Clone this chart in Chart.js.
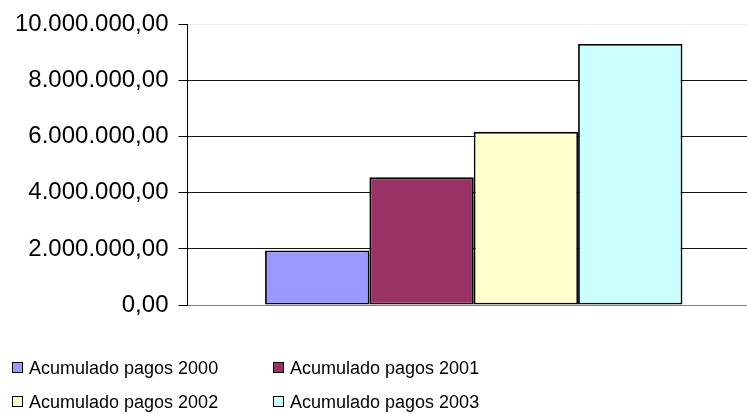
<!DOCTYPE html>
<html>
<head>
<meta charset="utf-8">
<script src="https://cdn.jsdelivr.net/npm/chart.js@4/dist/chart.umd.min.js"></script>
<style>
  html, body { margin:0; padding:0; background:#fff; overflow:hidden; width:747px; height:414px; }
  #wrap { position:absolute; left:0; top:0; width:760px; height:414px; }
  #legend { position:absolute; left:0; top:0; width:747px; height:414px; pointer-events:none;
            font-family:"Liberation Sans", Arial, sans-serif; font-size:18px; color:#000; }
  .item { position:absolute; height:20px; line-height:20px; white-space:nowrap; }
  .box { position:absolute; left:0; top:4px; width:9px; height:9px; border:1px solid #000; }
  .lbl { position:absolute; left:17px; top:0; }
</style>
</head>
<body>
<div id="wrap"><canvas id="c"></canvas></div>
<div id="legend"></div>
<script>
const categories = [""];
const seriesNames = ["Acumulado pagos 2000", "Acumulado pagos 2001", "Acumulado pagos 2002", "Acumulado pagos 2003"];
const seriesValues = [1940000, 4550000, 6170000, 9300000];
const seriesColors = ["#9999FF", "#993366", "#FFFFCC", "#CCFFFF"];
const yTickValues = [0, 2000000, 4000000, 6000000, 8000000, 10000000];
const yTickLabels = ["0,00", "2.000.000,00", "4.000.000,00", "6.000.000,00", "8.000.000,00", "10.000.000,00"];

Chart.defaults.font.family = '"Liberation Sans", Arial, sans-serif';
Chart.defaults.color = '#000';

const datasets = seriesNames.map((name, i) => ({
  label: name,
  data: [seriesValues[i]],
  backgroundColor: seriesColors[i],
  borderColor: '#000',
  borderWidth: 1.8,
  borderSkipped: false,
  barPercentage: 1.0,
  categoryPercentage: 0.729
}));

new Chart(document.getElementById('c'), {
  type: 'bar',
  data: { labels: categories, datasets },
  options: {
    responsive: true,
    maintainAspectRatio: false,
    animation: false,
    layout: { padding: { top: 22, bottom: 109, left: 5, right: 0 } },
    plugins: { legend: { display: false }, tooltip: { enabled: false } },
    scales: {
      x: { display: false },
      y: {
        min: 0, max: 10000000,
        afterBuildTicks: (axis) => { axis.ticks = yTickValues.map(v => ({ value: v })); },
        ticks: {
          font: { size: 24 },
          color: '#000',
          padding: 10,
          callback: (v) => { const i = yTickValues.indexOf(v); return i >= 0 ? yTickLabels[i] : ''; }
        },
        border: { display: true, color: '#000', width: 1 },
        grid: {
          drawTicks: true,
          tickLength: 9,
          tickColor: '#000',
          lineWidth: 1,
          color: (ctx) => {
            const v = ctx.tick ? ctx.tick.value : 0;
            if (v === 10000000) return '#eeeeee';
            if (v === 0) return '#808080';
            return '#111111';
          }
        }
      }
    }
  }
});

const legend = document.getElementById('legend');
const pos = [[12, 358], [273, 358], [12, 392], [273, 392]];
seriesNames.forEach((name, i) => {
  const it = document.createElement('div');
  it.className = 'item';
  it.style.left = pos[i][0] + 'px';
  it.style.top = pos[i][1] + 'px';
  const b = document.createElement('div');
  b.className = 'box';
  b.style.background = seriesColors[i];
  const t = document.createElement('div');
  t.className = 'lbl';
  t.textContent = name;
  it.appendChild(b); it.appendChild(t);
  legend.appendChild(it);
});
</script>
</body>
</html>
